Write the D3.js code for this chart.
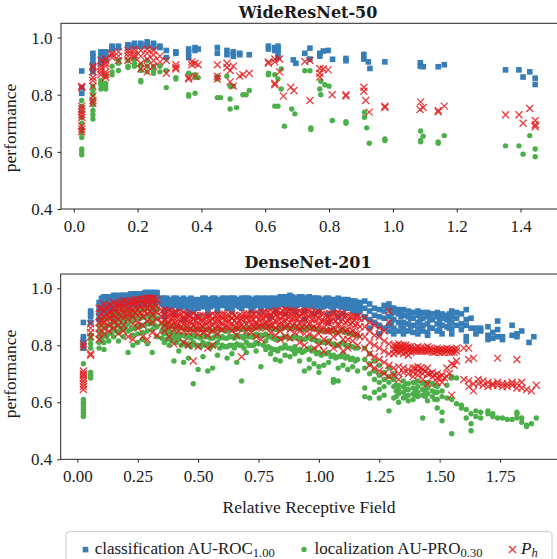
<!DOCTYPE html>
<html>
<head>
<meta charset="utf-8">
<script src="https://cdn.jsdelivr.net/npm/d3@7"></script>
<style>
  body { margin: 0; background: #fff; }
  svg text { font-family: "Liberation Serif", "DejaVu Serif", serif; fill: #1a1a1a; }
</style>
</head>
<body>
<div id="chart"></div>
<script>
// each series is a list of columns: [relative receptive field, [performance values]]

// WideResNet-50
const wrnRoc = [
  [0.025, [.883, .825, .805]], [0.06, [.945, .935, .92, .905, .89, .88]], [0.085, [.95, .94, .925, .91]],
  [0.1, [.95, .945, .93, .92]], [0.12, [.97, .965, .96]], [0.14, [.97, .965]], [0.17, [.975, .97, .965]],
  [0.19, [.98, .975, .97]], [0.21, [.98, .975, .97]], [0.23, [.985, .975, .97]], [0.25, [.98, .975, .965]],
  [0.27, [.97, .965]], [0.29, [.955, .93]], [0.32, [.95, .945]], [0.36, [.96, .945, .93]], [0.38, [.965, .955]],
  [0.39, [.96]], [0.45, [.965, .945]], [0.48, [.955, .94]], [0.5, [.95, .945, .935]], [0.52, [.945, .94]],
  [0.55, [.94]], [0.61, [.97, .96]], [0.63, [.965, .955]], [0.64, [.97, .96, .945, .93]], [0.688, [.922]],
  [0.696, [.91]], [0.724, [.945]], [0.74, [.963, .925]], [0.771, [.945, .935]], [0.782, [.953]],
  [0.797, [.955]], [0.811, [.924]], [0.853, [.927, .919]], [0.909, [.941, .925]], [0.923, [.915]],
  [0.928, [.892]], [0.975, [.915]], [1.086, [.912, .9]], [1.095, [.898]], [1.142, [.898]], [1.161, [.905]],
  [1.353, [.887]], [1.395, [.887]], [1.408, [.862]], [1.429, [.88]], [1.446, [.858, .836]]
];
const wrnPro = [
  [0.025, [.78, .76, .74, .72, .7, .68, .665, .65, .61, .6, .59]], [0.06, [.83, .815, .8, .78, .765, .745, .73, .715]],
  [0.085, [.85, .84, .835, .82]], [0.1, [.865, .84, .83, .82]], [0.12, [.9, .88, .87]], [0.14, [.92, .91, .885]],
  [0.17, [.92, .9, .895]], [0.19, [.925, .91, .9]], [0.21, [.905, .885, .85, .845]], [0.23, [.92, .9, .88]],
  [0.25, [.9, .885, .875]], [0.27, [.9, .88]], [0.29, [.885, .825]], [0.32, [.86, .855]],
  [0.36, [.875, .8, .795]], [0.38, [.87, .86, .805]], [0.39, [.86]], [0.45, [.865, .855, .79]], [0.46, [.79]],
  [0.48, [.865]], [0.49, [.83, .785, .75]], [0.5, [.83]], [0.51, [.755]], [0.53, [.8]], [0.54, [.8]],
  [0.55, [.815]], [0.61, [.875, .87]], [0.63, [.87, .76]], [0.64, [.855, .76]], [0.65, [.89, .82]],
  [0.66, [.69]], [0.683, [.75]], [0.693, [.733]], [0.724, [.884]], [0.74, [.884]], [0.743, [.684, .678]],
  [0.771, [.82]], [0.774, [.847, .8]], [0.787, [.835]], [0.8, [.83]], [0.81, [.71]], [0.853, [.706, .7]],
  [0.911, [.739, .721]], [0.918, [.684]], [0.926, [.63]], [0.975, [.645, .64]], [1.087, [.673, .64, .635]],
  [1.095, [.655]], [1.142, [.635, .63]], [1.161, [.657]], [1.353, [.621]], [1.395, [.621]], [1.408, [.592]],
  [1.429, [.657]], [1.446, [.61, .583]]
];
const wrnPh = [
  [0.025, [.83, .825, .76, .75, .74, .73, .72, .69, .68, .67]], [0.06, [.9, .895, .88, .86, .85, .83, .795, .78, .77]],
  [0.085, [.92, .9, .89, .88, .87]], [0.1, [.925, .91, .9, .88, .87, .86]], [0.12, [.945, .94, .93]],
  [0.14, [.95, .935, .92]], [0.17, [.955, .945, .935, .92]], [0.19, [.96, .95, .94, .93]],
  [0.21, [.955, .935, .91, .89]], [0.23, [.96, .945, .925, .9, .88]], [0.25, [.955, .94, .92, .9]],
  [0.27, [.935, .915]], [0.29, [.92, .875]], [0.32, [.905, .895, .89]], [0.36, [.86, .855]], [0.37, [.915, .905]],
  [0.38, [.91, .865]], [0.39, [.905]], [0.45, [.905, .865, .855]], [0.48, [.91, .895]], [0.49, [.885, .845]],
  [0.5, [.9, .83]], [0.52, [.865]], [0.53, [.87]], [0.55, [.875]], [0.61, [.915, .91]],
  [0.63, [.925, .915, .84, .835]], [0.645, [.925, .88]], [0.657, [.795]], [0.68, [.826]], [0.69, [.815]],
  [0.724, [.916]], [0.74, [.92, .78]], [0.771, [.892, .875, .862]], [0.782, [.89]], [0.797, [.887]],
  [0.81, [.8]], [0.853, [.8, .795]], [0.909, [.826, .812]], [0.915, [.78]], [0.926, [.739]],
  [0.975, [.755, .76]], [1.087, [.775]], [1.085, [.748]], [1.095, [.755]], [1.142, [.74, .745]], [1.161, [.76]],
  [1.353, [.73]], [1.395, [.73]], [1.408, [.7]], [1.429, [.752]], [1.446, [.71, .695, .688]]
];

// DenseNet-201
const dnRoc = [
  [0.025, [.88, .83, .82, .81, .8, .79]], [0.055, [.92, .91, .9, .88]], [0.09, [.95, .93, .91, .89]],
  [0.11, [.97, .96, .94, .92, .9]], [0.13, [.965, .95, .93, .91]], [0.15, [.975, .96, .94, .92, .9]],
  [0.17, [.97, .955, .94, .91]], [0.19, [.975, .96, .945, .92, .89]], [0.21, [.975, .965, .95, .93]],
  [0.23, [.98, .965, .945, .92, .9]], [0.25, [.98, .97, .955, .935]], [0.27, [.98, .97, .95, .93, .9]],
  [0.29, [.985, .975, .96, .94]], [0.31, [.985, .975, .965, .945, .92]], [0.33, [.985, .97, .95]],
  [0.36, [.965, .955, .94, .92, .9]], [0.38, [.96, .95, .93]], [0.4, [.965, .955, .94, .91]],
  [0.42, [.96, .945, .93]], [0.44, [.965, .95, .935, .89]], [0.46, [.955, .945, .93, .91]],
  [0.48, [.96, .95, .94, .92]], [0.5, [.955, .945, .93, .9]], [0.52, [.965, .95, .935]],
  [0.54, [.96, .945, .93, .91]], [0.56, [.965, .955, .94]], [0.58, [.96, .95, .935, .92]],
  [0.6, [.965, .95, .94]], [0.62, [.96, .955, .945, .93]], [0.64, [.965, .95, .935, .92]],
  [0.66, [.96, .95, .94]], [0.68, [.965, .955, .945, .93]], [0.7, [.965, .955, .94]],
  [0.72, [.96, .95, .935, .92]], [0.74, [.965, .955, .945]], [0.76, [.96, .95, .935, .92]],
  [0.78, [.965, .955, .94]], [0.8, [.965, .95, .935, .9]], [0.82, [.96, .95, .94, .92]],
  [0.84, [.97, .955, .945]], [0.86, [.965, .955, .94, .91]], [0.88, [.975, .96, .945, .93]],
  [0.9, [.965, .955, .94, .92]], [0.92, [.97, .96, .945]], [0.94, [.965, .955, .94, .92, .89]],
  [0.96, [.97, .96, .945]], [0.98, [.965, .955, .935, .91]], [1.0, [.965, .955, .94, .92]],
  [1.02, [.96, .95, .935]], [1.04, [.965, .955, .94, .91, .88]], [1.06, [.96, .95, .935, .92]],
  [1.08, [.965, .95, .94, .9]], [1.1, [.96, .95, .935, .91]], [1.12, [.96, .945, .93]],
  [1.14, [.955, .94, .92]], [1.16, [.95, .935, .91]], [1.19, [.955, .93, .9]], [1.21, [.945, .92, .89, .86]],
  [1.23, [.93, .905, .88]], [1.25, [.925, .9, .87, .84]], [1.27, [.94, .92, .895, .86]],
  [1.29, [.945, .93, .9, .87, .85]], [1.31, [.93, .915, .89, .86, .84]], [1.33, [.925, .91, .88, .85]],
  [1.35, [.925, .905, .88, .86, .84]], [1.37, [.92, .9, .875, .85]], [1.39, [.915, .895, .87, .845]],
  [1.41, [.92, .905, .88, .86, .84]], [1.43, [.915, .895, .87, .85]], [1.45, [.915, .9, .875, .845, .835]],
  [1.47, [.91, .89, .86]], [1.49, [.915, .9, .875, .85]], [1.51, [.91, .895, .87, .84]],
  [1.53, [.905, .89, .865]], [1.55, [.92, .9, .88, .86, .84]], [1.57, [.915, .895, .87]],
  [1.59, [.91, .875, .855]], [1.61, [.925, .89, .87, .83, .815]], [1.63, [.895, .86]], [1.65, [.86, .84]],
  [1.67, [.86, .85]], [1.7, [.865, .835, .82]], [1.72, [.845, .825]], [1.74, [.885, .855, .83]],
  [1.76, [.83, .82]], [1.8, [.87, .835]], [1.82, [.84, .83]], [1.84, [.85]], [1.87, [.81]], [1.89, [.83]],
  // in-between columns of the dense part
  [0.1, [.965, .945, .925]], [0.12, [.97, .95, .93, .905]], [0.14, [.97, .955, .935]], [0.16, [.975, .96, .94, .92]],
  [0.18, [.975, .96, .945]], [0.2, [.975, .965, .95, .93]], [0.22, [.98, .97, .955]], [0.24, [.98, .97, .955, .94]],
  [0.26, [.98, .97, .96]], [0.28, [.985, .975, .96, .945]], [0.3, [.985, .975, .965]], [0.32, [.985, .975, .96, .94]],
  [0.35, [.965, .955, .945]], [0.37, [.965, .955, .94]], [0.39, [.96, .95, .935]], [0.41, [.965, .95, .94]],
  [0.43, [.96, .95, .935]], [0.45, [.96, .95, .94]], [0.47, [.965, .95, .935]], [0.49, [.96, .95, .94]],
  [0.51, [.96, .95, .94]], [0.53, [.965, .955, .94]], [0.55, [.96, .95, .935]], [0.57, [.965, .955, .94]],
  [0.59, [.96, .95, .94]], [0.61, [.965, .955, .94]], [0.63, [.965, .95, .94]], [0.65, [.965, .955, .945]],
  [0.67, [.96, .95, .935]], [0.69, [.965, .955, .94]], [0.71, [.965, .95, .94]], [0.73, [.96, .95, .935]],
  [0.75, [.965, .955, .94]], [0.77, [.965, .95, .94]], [0.79, [.96, .95, .935]], [0.81, [.965, .955, .94]],
  [0.83, [.965, .955, .94]], [0.85, [.97, .96, .945]], [0.87, [.97, .955, .94]], [0.89, [.97, .96, .945]],
  [0.91, [.965, .955, .94]], [0.93, [.97, .96, .945]], [0.95, [.965, .955, .94]], [0.97, [.965, .955, .94]],
  [0.99, [.965, .955, .94]], [1.01, [.96, .95, .935]], [1.03, [.965, .955, .94]], [1.05, [.96, .95, .935]],
  [1.07, [.96, .95, .94]], [1.09, [.96, .95, .935]], [1.11, [.96, .945, .93]], [1.13, [.955, .945, .93]],
  [1.15, [.955, .94, .925]], [1.17, [.95, .935, .92]], [1.3, [.93, .91, .88]], [1.34, [.92, .9, .87]],
  [1.38, [.915, .895, .865]], [1.42, [.91, .89, .86]], [1.46, [.91, .89, .86]], [1.5, [.905, .885, .855]],
  [1.54, [.91, .885, .86]]
];
const dnPro = [
  [0.025, [.735, .61, .6, .595, .585, .575, .565, .555, .55]], [0.055, [.835, .82, .805, .79, .705, .695, .685]],
  [0.09, [.87, .85, .83, .81, .79]], [0.11, [.89, .86, .835, .81, .785]], [0.13, [.9, .87, .84, .815]],
  [0.15, [.91, .885, .86, .83]], [0.17, [.915, .895, .87, .845, .815]], [0.19, [.92, .9, .88, .855, .83]],
  [0.21, [.925, .9, .875, .85, .775]], [0.23, [.91, .885, .86, .835, .8]], [0.25, [.92, .895, .87, .84, .81]],
  [0.27, [.925, .9, .87, .845, .82]], [0.29, [.93, .905, .88, .85, .805]], [0.31, [.935, .91, .885, .855, .775]],
  [0.33, [.925, .895, .865, .83]], [0.36, [.88, .86, .84, .81]], [0.38, [.875, .85, .83, .8]],
  [0.4, [.87, .845, .825, .745]], [0.42, [.865, .84, .82, .78]], [0.44, [.86, .835, .81, .74]],
  [0.46, [.855, .83, .805, .755]], [0.48, [.86, .835, .81, .665]], [0.5, [.855, .83, .8, .715]],
  [0.52, [.86, .835, .81, .76]], [0.54, [.855, .83, .805, .71]], [0.56, [.85, .825, .8, .72]],
  [0.58, [.86, .835, .81, .765]], [0.6, [.855, .83, .8]], [0.62, [.85, .825, .795, .755]],
  [0.64, [.855, .83, .8, .77]], [0.66, [.86, .835, .805, .74]], [0.68, [.855, .83, .8, .675]],
  [0.7, [.86, .835, .81, .775]], [0.72, [.855, .83, .8]], [0.74, [.865, .84, .81, .78]],
  [0.76, [.86, .835, .725]], [0.78, [.87, .84, .815, .785]], [0.8, [.86, .83, .79, .77]],
  [0.82, [.855, .82, .785, .75]], [0.84, [.86, .825, .79, .745]], [0.86, [.865, .83, .8, .765]],
  [0.88, [.86, .825, .79, .76]], [0.9, [.865, .83, .795, .77]], [0.92, [.86, .825, .785, .745]],
  [0.94, [.855, .82, .78, .71]], [0.96, [.865, .83, .79, .75, .72]], [0.98, [.86, .82, .785, .735]],
  [1.0, [.855, .815, .775, .725, .705]], [1.02, [.85, .81, .77, .73]], [1.04, [.855, .815, .775, .74]],
  [1.06, [.85, .805, .765, .68, .67]], [1.08, [.845, .8, .76, .72, .675]], [1.1, [.855, .81, .77, .73]],
  [1.12, [.845, .8, .76, .715]], [1.14, [.84, .795, .755, .725]], [1.16, [.835, .79, .75, .71]],
  [1.19, [.79, .75, .72, .65, .62]], [1.21, [.77, .735, .7, .615]], [1.23, [.745, .71, .68, .635]],
  [1.25, [.73, .695, .67, .645, .615]], [1.27, [.705, .68, .655, .625]], [1.29, [.72, .69, .67, .57]],
  [1.31, [.7, .68, .655, .615]], [1.33, [.66, .645, .63, .6]], [1.35, [.675, .655, .635, .615]],
  [1.37, [.665, .645, .625, .605]], [1.39, [.67, .65, .63, .61]], [1.41, [.675, .655, .635, .62]],
  [1.43, [.665, .645, .625, .545]], [1.45, [.67, .65, .63, .605]], [1.47, [.665, .64, .62]],
  [1.49, [.655, .635, .61, .58]], [1.51, [.64, .62, .565, .535]], [1.53, [.66, .615]],
  [1.55, [.69, .685, .61, .49]], [1.57, [.685, .595]], [1.59, [.59, .58]], [1.61, [.575, .545]],
  [1.63, [.56, .525, .5]], [1.65, [.57, .55]], [1.67, [.565, .545]], [1.7, [.57, .56]], [1.72, [.56, .55]],
  [1.74, [.545]], [1.76, [.545]], [1.78, [.54]], [1.8, [.54]], [1.82, [.565, .56, .545]], [1.84, [.545, .53]],
  [1.86, [.52, .515]], [1.88, [.525]], [1.9, [.545]],
  // in-between columns of the dense part
  [0.1, [.875, .845, .82]], [0.12, [.895, .865, .83]], [0.14, [.905, .875, .845]], [0.16, [.91, .88, .85]],
  [0.18, [.915, .89, .86]], [0.2, [.92, .895, .865]], [0.22, [.915, .89, .855]], [0.24, [.92, .89, .86]],
  [0.26, [.925, .895, .865]], [0.28, [.925, .9, .87]], [0.3, [.93, .9, .875]], [0.32, [.93, .9, .87]],
  [0.35, [.875, .85, .825]], [0.37, [.87, .845, .82]], [0.39, [.865, .84, .815]], [0.41, [.86, .835, .81]],
  [0.43, [.86, .835, .8]], [0.45, [.855, .83, .8]], [0.47, [.855, .825, .795]], [0.49, [.855, .83, .8]],
  [0.51, [.855, .825, .795]], [0.53, [.855, .83, .8]], [0.55, [.85, .825, .79]], [0.57, [.855, .83, .8]],
  [0.59, [.855, .825, .79]], [0.61, [.85, .825, .795]], [0.63, [.855, .83, .8]], [0.65, [.855, .825, .79]],
  [0.67, [.86, .83, .8]], [0.69, [.855, .825, .79]], [0.71, [.86, .83, .8]], [0.73, [.86, .83, .8]],
  [0.75, [.865, .835, .805]], [0.77, [.865, .835, .8]], [0.79, [.865, .83, .795]], [0.81, [.86, .825, .785]],
  [0.83, [.855, .82, .78]], [0.85, [.86, .825, .79]], [0.87, [.865, .83, .79]], [0.89, [.86, .825, .785]],
  [0.91, [.86, .825, .78]], [0.93, [.855, .82, .775]], [0.95, [.86, .825, .785]], [0.97, [.86, .82, .78]],
  [0.99, [.855, .815, .77]], [1.01, [.85, .81, .765]], [1.03, [.85, .81, .77]], [1.05, [.85, .805, .76]],
  [1.07, [.845, .8, .755]], [1.09, [.85, .805, .76]], [1.11, [.845, .8, .755]], [1.13, [.84, .795, .75]],
  [1.15, [.835, .79, .745]], [1.32, [.66, .64, .62]], [1.36, [.665, .645, .62]], [1.4, [.67, .645, .625]],
  [1.44, [.665, .64, .62]], [1.48, [.66, .635, .61]]
];
const dnPh = [
  [0.025, [.805, .795, .71, .7, .695, .685, .675, .665, .655, .645]], [0.055, [.875, .86, .845, .83, .77, .765]],
  [0.09, [.93, .9, .88, .86, .84, .82]], [0.11, [.945, .92, .9, .88, .86, .84]], [0.13, [.94, .915, .895, .87, .85]],
  [0.15, [.95, .925, .905, .88, .86]], [0.17, [.945, .93, .91, .89, .87, .84]],
  [0.19, [.955, .935, .915, .895, .87, .85]], [0.21, [.95, .93, .91, .89, .83]],
  [0.23, [.955, .94, .92, .9, .875, .82]], [0.25, [.96, .945, .925, .905, .88, .86]],
  [0.27, [.96, .945, .925, .9, .87, .83]], [0.29, [.965, .95, .93, .91, .885, .82]],
  [0.31, [.965, .95, .93, .905, .88, .845]], [0.33, [.96, .94, .915, .89, .835]],
  [0.36, [.925, .905, .89, .87, .85]], [0.38, [.92, .9, .88, .86, .83]], [0.4, [.915, .895, .875, .855, .805]],
  [0.42, [.91, .89, .87, .85]], [0.44, [.915, .895, .875, .85, .81]], [0.46, [.905, .885, .865, .845, .8]],
  [0.48, [.91, .89, .87, .85, .745]], [0.5, [.9, .88, .86, .84, .795]], [0.52, [.905, .885, .865, .845]],
  [0.54, [.9, .88, .86, .835, .79]], [0.56, [.91, .89, .87, .85, .8]], [0.58, [.905, .885, .865, .84]],
  [0.6, [.91, .895, .875, .855]], [0.62, [.905, .885, .865]], [0.64, [.91, .895, .875, .85]],
  [0.66, [.9, .88, .86, .835]], [0.68, [.905, .89, .87, .76]], [0.7, [.91, .895, .875, .85]],
  [0.72, [.905, .89, .87, .845]], [0.74, [.915, .9, .88, .86, .83]], [0.76, [.905, .89, .87, .82]],
  [0.78, [.915, .9, .88, .86]], [0.8, [.91, .89, .87, .845]], [0.82, [.92, .905, .885, .86, .835]],
  [0.84, [.915, .895, .875, .85, .82]], [0.86, [.925, .905, .885, .86, .83]], [0.88, [.92, .9, .88, .855, .825]],
  [0.9, [.915, .895, .875, .845]], [0.92, [.92, .9, .88, .85, .81]], [0.94, [.915, .895, .87, .84, .8]],
  [0.96, [.92, .9, .875, .84]], [0.98, [.91, .89, .865, .83, .79]], [1.0, [.915, .895, .87, .84, .8]],
  [1.02, [.91, .885, .86, .82, .78]], [1.04, [.9, .88, .85, .81]], [1.06, [.91, .89, .86, .83, .79]],
  [1.08, [.915, .895, .87, .84, .8]], [1.1, [.91, .89, .86, .82, .78]], [1.12, [.905, .885, .855, .82, .79]],
  [1.14, [.9, .88, .85, .815]], [1.16, [.9, .875, .84, .8]], [1.19, [.895, .865, .83, .79]],
  [1.21, [.88, .85, .81, .77, .73]], [1.23, [.87, .835, .8, .76, .72]], [1.25, [.86, .83, .79, .75, .71]],
  [1.27, [.85, .815, .78, .74, .7]], [1.29, [.92, .88, .805, .77, .73, .69]], [1.31, [.8, .785, .77, .72, .695]],
  [1.33, [.805, .79, .775, .725, .7, .68]], [1.35, [.8, .785, .77, .72, .705]], [1.37, [.795, .78, .765, .715, .7]],
  [1.39, [.79, .78, .72, .705, .69]], [1.41, [.795, .78, .725, .71, .695]], [1.43, [.79, .78, .715, .7, .68]],
  [1.45, [.795, .78, .72, .7, .665]], [1.47, [.785, .775, .705, .69]], [1.49, [.79, .78, .7, .685, .67]],
  [1.51, [.785, .775, .695, .67]], [1.53, [.79, .78, .72, .69]], [1.55, [.785, .775, .735, .625]],
  [1.57, [.79, .78, .745]], [1.6, [.79, .68]], [1.62, [.79, .75, .675, .655]], [1.64, [.755, .665, .64]],
  [1.66, [.68, .665]], [1.68, [.675, .66]], [1.7, [.67, .655]], [1.72, [.665, .66]], [1.74, [.755, .67, .66]],
  [1.76, [.665, .655]], [1.78, [.665, .655]], [1.8, [.67, .66]], [1.82, [.75, .665, .65]], [1.84, [.67, .65]],
  [1.86, [.645]], [1.88, [.64]], [1.9, [.66]],
  // in-between columns of the dense part
  [0.1, [.93, .91, .885]], [0.12, [.935, .91, .89]], [0.14, [.94, .92, .895]], [0.16, [.945, .925, .9]],
  [0.18, [.95, .93, .905]], [0.2, [.955, .935, .91]], [0.22, [.955, .935, .91]], [0.24, [.96, .94, .915]],
  [0.26, [.96, .94, .915]], [0.28, [.965, .945, .92]], [0.3, [.965, .945, .92]], [0.32, [.965, .945, .92]],
  [0.35, [.92, .9, .88]], [0.37, [.92, .9, .875]], [0.39, [.915, .895, .87]], [0.41, [.915, .895, .87]],
  [0.43, [.91, .89, .865]], [0.45, [.91, .89, .865]], [0.47, [.905, .885, .86]], [0.49, [.905, .885, .86]],
  [0.51, [.905, .885, .86]], [0.53, [.9, .88, .855]], [0.55, [.905, .885, .86]], [0.57, [.905, .885, .86]],
  [0.59, [.905, .885, .86]], [0.61, [.91, .89, .865]], [0.63, [.905, .885, .86]], [0.65, [.905, .885, .86]],
  [0.67, [.905, .885, .86]], [0.69, [.91, .89, .865]], [0.71, [.91, .89, .865]], [0.73, [.91, .89, .865]],
  [0.75, [.91, .89, .865]], [0.77, [.915, .895, .87]], [0.79, [.915, .89, .865]], [0.81, [.915, .895, .87]],
  [0.83, [.92, .9, .87]], [0.85, [.92, .9, .875]], [0.87, [.92, .9, .87]], [0.89, [.92, .895, .87]],
  [0.91, [.915, .895, .865]], [0.93, [.915, .89, .865]], [0.95, [.92, .895, .865]], [0.97, [.915, .89, .86]],
  [0.99, [.915, .89, .86]], [1.01, [.91, .885, .855]], [1.03, [.905, .88, .85]], [1.05, [.91, .885, .855]],
  [1.07, [.91, .885, .855]], [1.09, [.91, .885, .855]], [1.11, [.905, .88, .85]], [1.13, [.9, .875, .845]],
  [1.15, [.9, .87, .84]], [1.17, [.895, .865, .83]], [1.32, [.8, .79, .78]], [1.34, [.8, .79, .78]],
  [1.36, [.8, .79, .775]], [1.38, [.795, .785, .775]], [1.4, [.79, .78, .72]], [1.42, [.79, .78, .72]],
  [1.44, [.79, .78, .71]], [1.46, [.79, .78, .7]], [1.48, [.785, .775, .695]], [1.5, [.785, .775, .69]],
  [1.52, [.785, .775, .685]], [1.54, [.785, .775, .7]], [1.56, [.785, .775, .73]]
];

const wrnTicks = [0, 0.2, 0.4, 0.6, 0.8, 1.0, 1.2, 1.4];
const dnTicks = [0, 0.25, 0.5, 0.75, 1.0, 1.25, 1.5, 1.75];
const yTicks = [0.4, 0.6, 0.8, 1.0];

const blue = '#377eb8', green = '#4daf4a', red = '#e41a1c';

const W = 557, H = 559;
const svg = d3.select('#chart').append('svg')
    .attr('width', W)
    .attr('height', H);

const flat = cols => cols.flatMap(([x, vs]) => vs.map(v => [x, v]));

const panels = [
    { title: 'WideResNet-50', roc: wrnRoc, pro: wrnPro, ph: wrnPh, ticks: wrnTicks, fmt: d3.format('.1f'),
      xDomain: [-0.04, 1.53], left: 61, right: 562, top: 23.3, bottom: 209, titleY: 17.5, labelY: 128 },
    { title: 'DenseNet-201', roc: dnRoc, pro: dnPro, ph: dnPh, ticks: dnTicks, fmt: d3.format('.2f'),
      xDomain: [-0.069, 2.0], left: 60.7, right: 560.4, top: 274, bottom: 459.3, titleY: 268, labelY: 374 }
];

panels.forEach((p, i) => {
    const x = d3.scaleLinear().domain(p.xDomain).range([p.left, p.right]);
    const y = d3.scaleLinear().domain([0.4, 1.05]).range([p.bottom, p.top]);
    const g = svg.append('g');

    g.append('clipPath').attr('id', 'clip' + i)
        .append('rect')
        .attr('x', p.left).attr('y', p.top)
        .attr('width', p.right - p.left).attr('height', p.bottom - p.top);

    // x axis
    const xa = g.append('g')
        .attr('transform', 'translate(0,' + p.bottom + ')')
        .call(d3.axisBottom(x).tickValues(p.ticks).tickFormat(p.fmt).tickSize(3.5).tickSizeOuter(0).tickPadding(7));
    xa.select('.domain').remove();
    xa.selectAll('line').attr('stroke', '#262626');
    xa.selectAll('text').attr('font-size', 17).attr('fill', '#1a1a1a');

    // y axis
    const ya = g.append('g')
        .attr('transform', 'translate(' + p.left + ',0)')
        .call(d3.axisLeft(y).tickValues(yTicks).tickFormat(d3.format('.1f')).tickSize(3.5).tickSizeOuter(0).tickPadding(5));
    ya.select('.domain').remove();
    ya.selectAll('line').attr('stroke', '#262626');
    ya.selectAll('text').attr('font-size', 17).attr('fill', '#1a1a1a');

    const pts = g.append('g').attr('clip-path', 'url(#clip' + i + ')');

    // classification AU-ROC
    pts.selectAll('rect.roc')
        .data(flat(p.roc))
        .enter()
        .append('rect')
        .attr('class', 'roc')
        .attr('x', d => x(d[0]) - 2.8)
        .attr('y', d => y(d[1]) - 2.8)
        .attr('width', 5.6)
        .attr('height', 5.6)
        .style('fill', blue);

    // localization AU-PRO
    pts.selectAll('circle.pro')
        .data(flat(p.pro))
        .enter()
        .append('circle')
        .attr('class', 'pro')
        .attr('cx', d => x(d[0]))
        .attr('cy', d => y(d[1]))
        .attr('r', 2.7)
        .style('fill', green);

    // P_h
    pts.selectAll('path.ph')
        .data(flat(p.ph))
        .enter()
        .append('path')
        .attr('class', 'ph')
        .attr('d', d => {
            const cx = x(d[0]), cy = y(d[1]), s = 3.5;
            return `M${cx - s},${cy - s}L${cx + s},${cy + s}M${cx - s},${cy + s}L${cx + s},${cy - s}`;
        })
        .style('stroke', red)
        .style('stroke-opacity', 0.85)
        .style('stroke-width', 1.3)
        .style('fill', 'none');

    // frame
    g.append('rect')
        .attr('x', p.left).attr('y', p.top)
        .attr('width', p.right - p.left).attr('height', p.bottom - p.top)
        .style('fill', 'none')
        .style('stroke', '#262626')
        .style('stroke-width', 1);

    g.append('text')
        .attr('x', 308)
        .attr('y', p.titleY)
        .attr('text-anchor', 'middle')
        .attr('font-size', 16)
        .attr('font-weight', 'bold')
        .style('font-family', '"DejaVu Serif", serif')
        .text(p.title);

    g.append('text')
        .attr('transform', 'translate(15.5,' + p.labelY + ') rotate(-90)')
        .attr('text-anchor', 'middle')
        .attr('font-size', 17.5)
        .text('performance');
});

svg.append('text')
    .attr('x', 309)
    .attr('y', 513)
    .attr('text-anchor', 'middle')
    .attr('font-size', 17.5)
    .text('Relative Receptive Field');

// legend
const lg = svg.append('g');
lg.append('rect')
    .attr('x', 66).attr('y', 531.7)
    .attr('width', 486).attr('height', 40)
    .attr('rx', 3)
    .style('fill', '#fff')
    .style('stroke', '#cccccc')
    .style('stroke-width', 1);

lg.append('rect')
    .attr('x', 82.7).attr('y', 546.8)
    .attr('width', 5.6).attr('height', 5.6)
    .style('fill', blue);
lg.append('circle')
    .attr('cx', 304).attr('cy', 549.5).attr('r', 2.7)
    .style('fill', green);
lg.append('path')
    .attr('d', 'M508.9,545.9L516.1,553.1M508.9,553.1L516.1,545.9')
    .style('stroke', red).style('stroke-opacity', 0.85).style('stroke-width', 1.4);

function legendText(x0, main, sub) {
    const t = lg.append('text')
        .attr('x', x0).attr('y', 553.5)
        .attr('font-size', 17);
    t.append('tspan').text(main);
    t.append('tspan').attr('dy', 3.5).attr('font-size', 12.5).text(sub);
}
legendText(94.7, 'classification AU-ROC', '1.00');
legendText(314.6, 'localization AU-PRO', '0.30');

const ph = lg.append('text')
    .attr('x', 521).attr('y', 553.5)
    .attr('font-size', 17)
    .attr('font-style', 'italic');
ph.append('tspan').text('P');
ph.append('tspan').attr('dy', 3.5).attr('font-size', 12.5).text('h');
</script>
</body>
</html>
